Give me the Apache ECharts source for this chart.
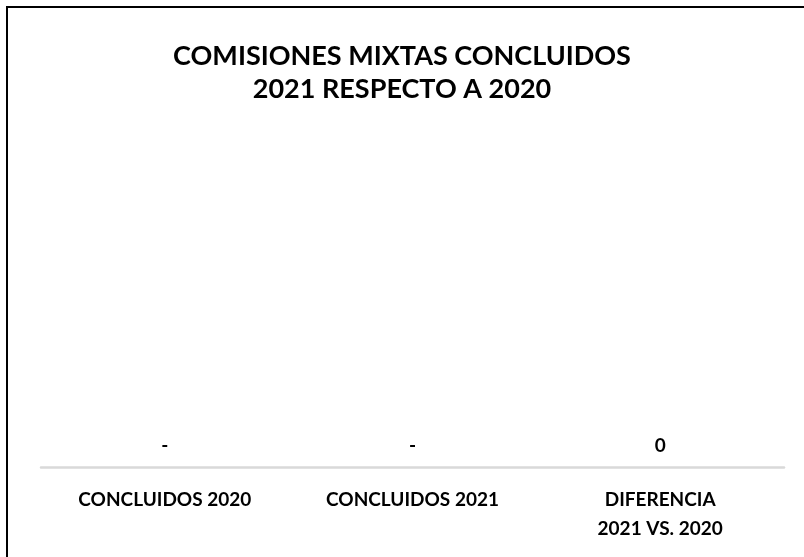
<!DOCTYPE html>
<html><head><meta charset="utf-8">
<script src="https://cdn.jsdelivr.net/npm/echarts@6/dist/echarts.min.js"></script>
<style>html,body{margin:0;padding:0;background:#fff}#c{width:804px;height:557px}</style>
</head><body><div id="c"></div>
<script>
const categories = ['CONCLUIDOS 2020', 'CONCLUIDOS 2021', 'DIFERENCIA\n2021 VS. 2020'];
const values = [0, 0, 0];
const valueLabels = ['-', '-', '0'];
const titleText = 'COMISIONES MIXTAS CONCLUIDOS\n2021 RESPECTO A 2020';

const FONT = 'Lato';
const chart = echarts.init(document.getElementById('c'));
chart.setOption({
  animation: false,
  backgroundColor: '#fff',
  title: {
    text: titleText, left: 'center', top: 35,
    textStyle: { fontFamily: FONT, fontWeight: 'bold', fontSize: 27, color: '#000', lineHeight: 33 }
  },
  graphic: [{ type: 'rect', shape: { x: 7, y: 7, width: 820, height: 580 }, style: { fill: null, stroke: '#000', lineWidth: 2 } }],
  grid: { left: 41, right: 20, top: 120, bottom: 90 },
  xAxis: {
    type: 'category', data: categories,
    axisLine: { lineStyle: { color: '#d9d9d9', width: 2.5 } },
    axisTick: { show: false },
    axisLabel: { margin: 18, fontFamily: FONT, fontWeight: 'bold', fontSize: 19, color: '#000', lineHeight: 29, interval: 0 }
  },
  yAxis: { type: 'value', min: 0, max: 1, show: false, splitLine: { show: false } },
  series: [{
    type: 'bar', data: values, barWidth: '60%', itemStyle: { color: '#4472c4' },
    label: {
      show: true, position: 'top', distance: 12,
      formatter: p => valueLabels[p.dataIndex],
      fontFamily: FONT, fontWeight: 'bold', fontSize: 19, color: '#000'
    }
  }]
});
</script></body></html>
